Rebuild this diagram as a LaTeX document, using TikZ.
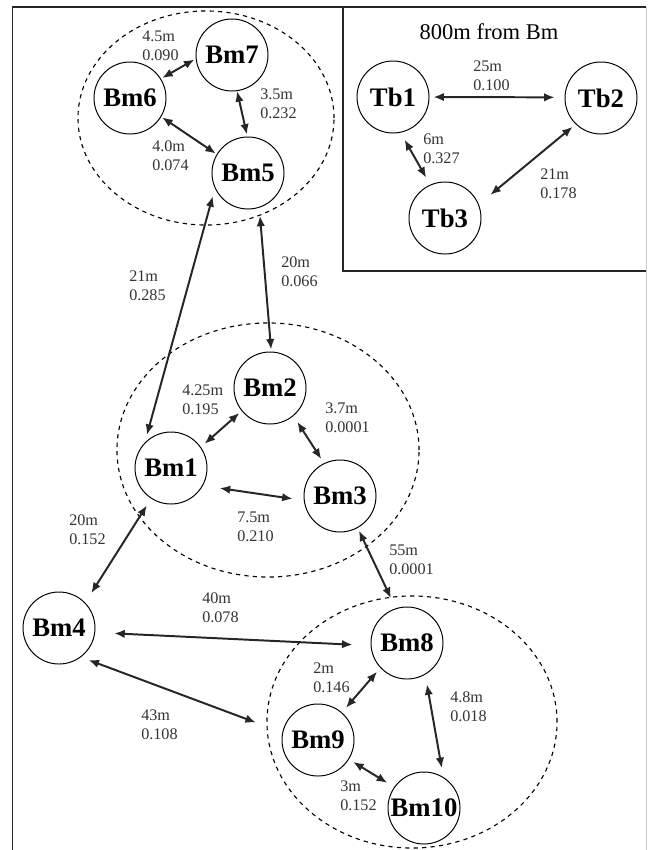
\documentclass[tikz,border=0pt]{standalone}
\usepackage{fontspec}
\setmainfont{Liberation Serif}
\usetikzlibrary{arrows.meta}

\tikzset{
  site/.style={draw, circle, line width=0.7pt, minimum size=1.8cm, inner sep=0pt,
    font=\fontsize{19}{22}\selectfont\bfseries},
  link/.style={{Latex[length=7.5pt,width=6pt]}-{Latex[length=7.5pt,width=6pt]},
    line width=1.4pt, draw=black!85},
  info/.style={anchor=west, align=left, inner sep=0pt, text=black!80,
    font=\fontsize{11.5}{13.5}\selectfont},
  group/.style={dash pattern=on 3pt off 3pt, line width=0.8pt},
  frame/.style={line width=0.9pt, draw=black!85}
}

\begin{document}
\begin{tikzpicture}[x=0.025cm, y=-0.025cm]
\useasboundingbox (0,0) rectangle (647,850);

% frame and inset box
\draw[frame] (12.7,850) -- (12.7,7) -- (646,7);
\draw[frame] (343,7) -- (343,271) -- (646,271);
\draw[gray!40, line width=0.6pt] (646,7) -- (646,850);

% groups
\draw[group] (206,118) ellipse [x radius=3.2cm, y radius=2.675cm];
\draw[group] (268,450) ellipse [x radius=3.775cm, y radius=3.175cm];
\draw[group] (412,722) ellipse [x radius=3.625cm, y radius=3.15cm];

% sites
\node[site] (bm7) at (232,55) {Bm7};
\node[site] (bm6) at (130,98) {Bm6};
\node[site] (bm5) at (248,173) {Bm5};
\node[site] (bm2) at (270,388) {Bm2};
\node[site] (bm1) at (171,468) {Bm1};
\node[site] (bm3) at (340,496) {Bm3};
\node[site] (bm4) at (59,628) {Bm4};
\node[site] (bm8) at (407,643) {Bm8};
\node[site] (bm9) at (318,740) {Bm9};
\node[site] (bm10) at (424,808) {Bm10};

\node[font=\fontsize{16}{19}\selectfont] (title) at (489,32) {800m from Bm};
\node[site] (tb1) at (393,97) {Tb1};
\node[site] (tb2) at (601,98) {Tb2};
\node[site] (tb3) at (445,218) {Tb3};

% links
\draw[link, shorten <=1pt, shorten >=1pt] (bm6.32) -- (bm7.186);
\draw[link, shorten >=1.4pt] (bm7.-82) -- (bm5.91);
\draw[link, shorten <=0.7pt, shorten >=0.7pt] (bm6.-31) -- (bm5.149);
\draw[link, shorten <=5.7pt, shorten >=5.7pt] (bm5.205) -- (bm1.136);
\draw[link, shorten <=5.7pt, shorten >=1.4pt] (bm5.-72) -- (bm2.88);
\draw[link, shorten <=3.5pt, shorten >=2.1pt] (bm1.35) -- (bm2.219);
\draw[link, shorten <=5pt, shorten >=3.5pt] (bm2.-50) -- (bm3.116);
\draw[link, shorten <=12pt, shorten >=8pt] (bm1.-29) -- (bm3.187);
\draw[link, shorten <=5.7pt, shorten >=8pt] (bm1.237) -- (bm4.44);
\draw[link, shorten <=2.1pt, shorten >=8pt] (bm3.-61) -- (bm8.108);
\draw[link, shorten <=13.5pt, shorten >=12.8pt] (bm4.-7) -- (bm8.184);
\draw[link, shorten <=5.7pt, shorten >=20pt] (bm4.-53) -- (bm9.168);
\draw[link, shorten <=3.5pt, shorten >=4.3pt] (bm8.223) -- (bm9.49);
\draw[link, shorten <=7pt, shorten >=6.4pt] (bm8.-60) -- (bm10.58);
\draw[link, shorten <=3.5pt, shorten >=5.7pt] (bm9.-32) -- (bm10.145);
\draw[link, shorten <=2.8pt, shorten >=7pt] (tb1.0) -- (tb2.179);
\draw[link, shorten <=5.7pt, shorten >=5.7pt] (tb1.-78) -- (tb3.114);
\draw[link, shorten <=2.8pt, shorten >=10.6pt] (tb2.226) -- (tb3.22);

% distances
\node[info] (d67) at (142,46) {4.5m\\0.090};
\node[info] (d57) at (260,104) {3.5m\\0.232};
\node[info] (d56) at (152,156) {4.0m\\0.074};
\node[info] (d15) at (129,286) {21m\\0.285};
\node[info] (d25) at (281,272) {20m\\0.066};
\node[info] (d12) at (182,400) {4.25m\\0.195};
\node[info] (d23) at (325,418) {3.7m\\0.0001};
\node[info] (d13) at (237,527) {7.5m\\0.210};
\node[info] (d14) at (69,530) {20m\\0.152};
\node[info] (d38) at (389,560) {55m\\0.0001};
\node[info] (d48) at (202,608) {40m\\0.078};
\node[info] (d89) at (313,678) {2m\\0.146};
\node[info] (d810) at (450,707) {4.8m\\0.018};
\node[info] (d49) at (141,725) {43m\\0.108};
\node[info] (d910) at (340,796) {3m\\0.152};
\node[info] (t12) at (473,76) {25m\\0.100};
\node[info] (t13) at (423,149) {6m\\0.327};
\node[info] (t23) at (540,184) {21m\\0.178};
\end{tikzpicture}
\end{document}
